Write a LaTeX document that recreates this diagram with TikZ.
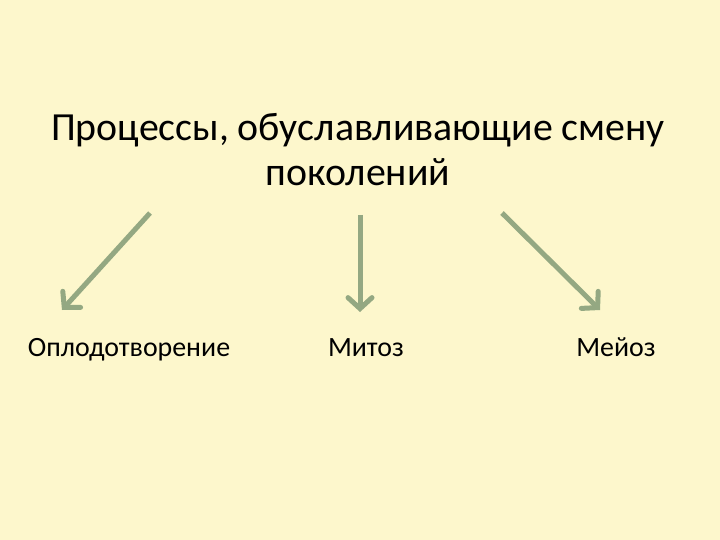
\documentclass[tikz,border=0pt]{standalone}
\usepackage{fontspec}
\setmainfont{Carlito}
\usetikzlibrary{arrows.meta}
\definecolor{bgyellow}{HTML}{FDF7CC}
\definecolor{arrgreen}{HTML}{94A882}
\tikzset{
  arr/.style={draw=arrgreen, line width=5bp,
    -{Straight Barb[length=11bp, width=24bp, line cap=round]}},
  lbl/.style={anchor=base, font=\fontsize{28}{32}\selectfont, text=black}
}
\begin{document}
\begin{tikzpicture}[x=1bp, y=-1bp]
  % === background ===
  \fill[bgyellow] (0,0) rectangle (720,540);
  % === title ===
  \node[anchor=base, align=center, font=\fontsize{40}{46}\selectfont] (title) at (358,186)
    {Процессы, обуславливающие смену\\поколений};
  % === labels ===
  \node[lbl] (fert) at (129,356) {Оплодотворение};
  \node[lbl] (mit)  at (366,356) {Митоз};
  \node[lbl] (mei)  at (616,356) {Мейоз};
  % === arrows ===
  \coordinate (fertTail) at (150,213);
  \coordinate (fertHead) at (62,310);
  \coordinate (mitTail)  at (360,215);
  \coordinate (mitHead)  at (360,312);
  \coordinate (meiTail)  at (502,213);
  \coordinate (meiHead)  at (600,310);
  \draw[arr] (fertTail) -- (fertHead);
  \draw[arr] (mitTail) -- (mitHead);
  \draw[arr] (meiTail) -- (meiHead);
\end{tikzpicture}
\end{document}
